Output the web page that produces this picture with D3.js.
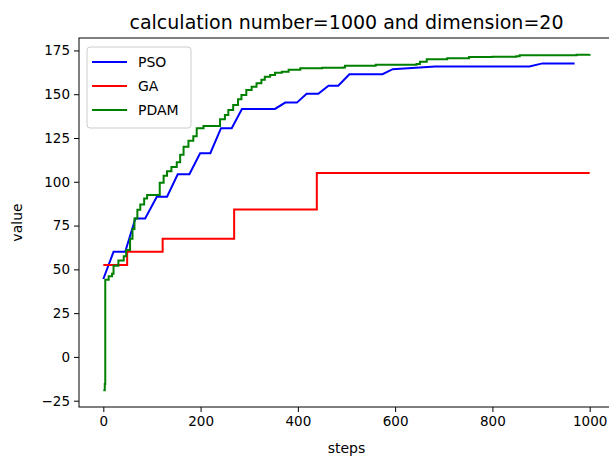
<!DOCTYPE html>
<html>
<head>
<meta charset="utf-8">
<script src="https://cdn.jsdelivr.net/npm/d3@7"></script>
<style>
  body { margin: 0; background: #fff; }
  text { font-family: "DejaVu Sans", sans-serif; fill: #000; }
</style>
</head>
<body>
<div id="chart"></div>
<script>
// values, [step, value]
const psoData = [[0,44.5],[21,60],[45,60],[66,79],[86,79],[110,91.5],[131,91.5],[153,104.3],[177,104.3],[199,116.3],[220,116.3],[242,130.6],[264,130.6],[285,141.6],[353,141.6],[374,145.2],[398,145.2],[418,150.2],[442,150.2],[463,154.8],[483,154.8],[506,161.4],[574,161.4],[595,164.3],[682,165.8],[876,165.8],[903,167.6],[969,167.6]];
const gaData = [[0,52.5],[49,60],[122,67.5],[269,84.2],[439,105],[1000,105]];
const pdamData = [[0,-19],[3,-15.5],[4,44],[11,46],[18,47.5],[21,52],[31,55],[42,57.5],[47,61],[55,67.5],[60,73],[64,79],[70,84],[76,87],[84,90.5],[90,92.5],[110,92.5],[116,99.5],[124,103.5],[131,106],[140,108.5],[151,111.2],[158,115.5],[165,120],[175,123.5],[185,126],[192,130.5],[206,131.8],[233,131.8],[240,135.7],[250,138.1],[257,141],[267,143.8],[277,147.1],[284,149.6],[294,152.4],[305,154.3],[315,156.3],[325,158.2],[332,160],[343,161],[353,162.3],[367,162.9],[381,163.9],[405,164.8],[450,165.1],[493,165.3],[497,166.2],[560,166.8],[644,167.3],[651,168.6],[665,170],[707,170.6],[752,171.2],[800,171.4],[849,171.7],[856,172.2],[959,172.2],[973,172.6],[1000,172.8]];

const seriesNames = ['PSO', 'GA', 'PDAM'];
const seriesColors = ['#0000ff', '#ff0000', '#008000'];
const xTicks = [0, 200, 400, 600, 800, 1000];
const yTicks = [-25, 0, 25, 50, 75, 100, 125, 150, 175];

const W = 609, H = 456;
const margin = { top: 38, left: 79, right: -5, bottom: 49 };
const width = W - margin.left - margin.right;
const height = H - margin.top - margin.bottom;

const svg = d3.select('#chart').append('svg').attr('width', W).attr('height', H);
const g = svg.append('g').attr('transform', `translate(${margin.left},${margin.top})`);

const x = d3.scaleLinear().domain([-50, 1050]).range([0, width]);
const y = d3.scaleLinear().domain([-28.6, 182.1]).range([height, 0]);

const line = d3.line().x(d => x(d[0])).y(d => y(d[1]));
const stepLine = d3.line().x(d => x(d[0])).y(d => y(d[1])).curve(d3.curveStepAfter);

const all = [psoData, gaData, pdamData];
all.forEach((data, i) => {
    g.append('path')
        .datum(data)
        .attr('d', i === 0 ? line : stepLine)
        .style('fill', 'none')
        .style('stroke', seriesColors[i])
        .style('stroke-width', '2px');
});

// axes
const xAxis = g.append('g')
    .attr('transform', `translate(0,${height})`)
    .call(d3.axisBottom(x).tickValues(xTicks).tickSize(5).tickPadding(4).tickFormat(d3.format('d')));
const yAxis = g.append('g')
    .call(d3.axisLeft(y).tickValues(yTicks).tickSize(5).tickPadding(4).tickFormat(d => d < 0 ? '\u2212' + Math.abs(d) : d));
[xAxis, yAxis].forEach(a => {
    a.selectAll('text').style('font-size', '13.5px').style('font-family', '"DejaVu Sans", sans-serif');
    a.selectAll('line').style('stroke', '#000').style('stroke-width', '1px');
    a.select('.domain').remove();
});

// spines
g.append('rect')
    .attr('x', 0).attr('y', 0)
    .attr('width', width).attr('height', height)
    .style('fill', 'none').style('stroke', '#000').style('stroke-width', '1px');

// title and labels
g.append('text')
    .attr('x', width / 2).attr('y', -9)
    .attr('text-anchor', 'middle')
    .style('font-size', '19px')
    .text('calculation number=1000 and dimension=20');

g.append('text')
    .attr('x', width / 2).attr('y', height + 46)
    .attr('text-anchor', 'middle')
    .style('font-size', '14px')
    .text('steps');

g.append('text')
    .attr('transform', `translate(${-57},${height / 2}) rotate(-90)`)
    .attr('text-anchor', 'middle')
    .style('font-size', '14px')
    .text('value');

// legend
const legend = g.append('g').attr('transform', 'translate(8,9)');
legend.append('rect')
    .attr('width', 104).attr('height', 81)
    .attr('rx', 3)
    .style('fill', 'rgba(255,255,255,0.8)')
    .style('stroke', '#cccccc')
    .style('stroke-width', '1px');
seriesNames.forEach((name, i) => {
    const row = legend.append('g').attr('transform', `translate(0,${15 + i * 24})`);
    row.append('line')
        .attr('x1', 5).attr('x2', 40)
        .attr('y1', 0).attr('y2', 0)
        .style('stroke', seriesColors[i])
        .style('stroke-width', '2px');
    row.append('text')
        .attr('x', 51).attr('y', 5)
        .style('font-size', '14px')
        .text(name);
});
</script>
</body>
</html>
